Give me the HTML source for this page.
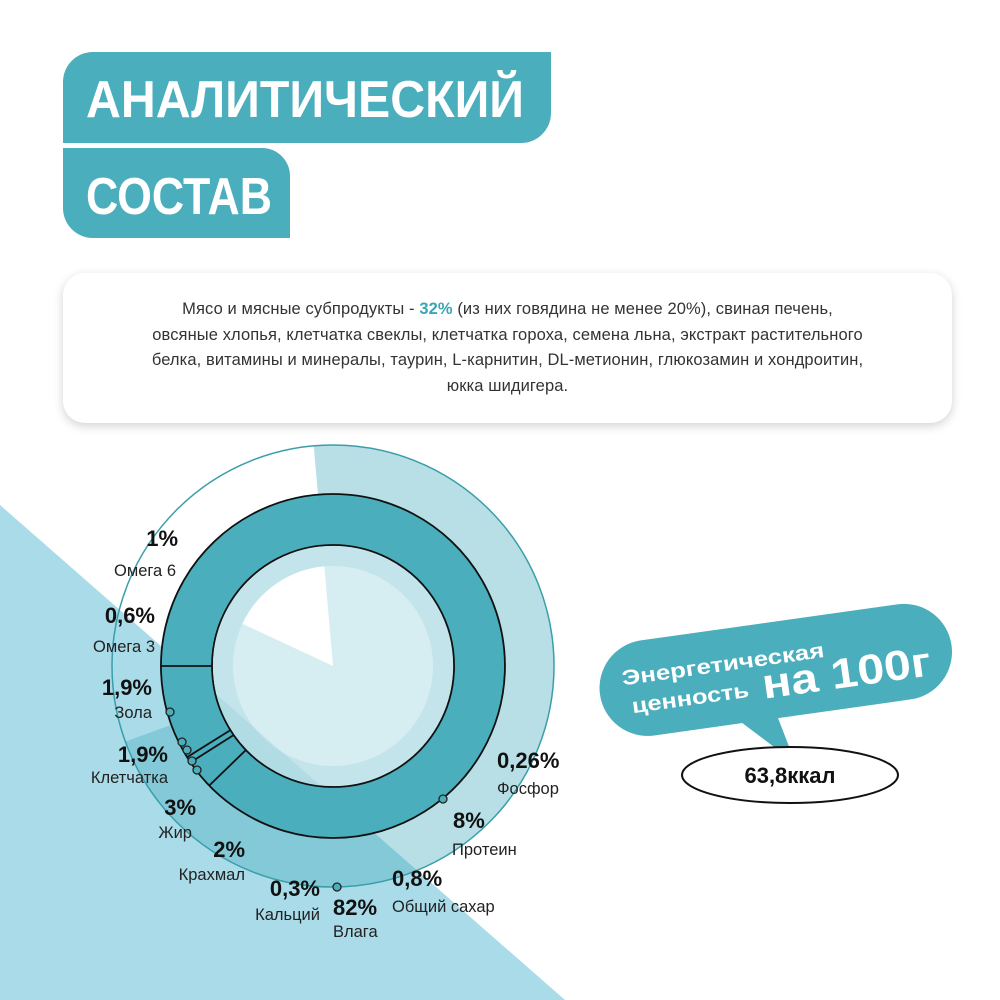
<!DOCTYPE html>
<html><head><meta charset="utf-8"><style>
html,body{margin:0;padding:0;background:#fff;}
body{width:1000px;height:1000px;overflow:hidden;position:relative;font-family:"Liberation Sans","DejaVu Sans",sans-serif;}
svg{position:absolute;left:0;top:0;}
.box{position:absolute;left:63px;top:273px;width:889px;height:150px;background:#fff;border-radius:22px;box-shadow:0 3px 10px rgba(0,0,0,0.18);}
.box p{margin:0;position:absolute;left:0;right:0;top:24px;text-align:center;font-size:16.5px;line-height:25.5px;color:#333;letter-spacing:0.1px;}
.box b{color:#3aa6b5;}
</style></head><body>
<svg width="1000" height="1000" viewBox="0 0 1000 1000">
  <defs><clipPath id="disk"><circle cx="333" cy="666" r="120"/></clipPath></defs>
  <path d="M93,52 H551 V113 A30,30 0 0 1 521,143 H63 V82 A30,30 0 0 1 93,52 Z" fill="#4aaebd"/>
  <path d="M63,148 H262 A28,28 0 0 1 290,176 V238 H93 A30,30 0 0 1 63,208 Z" fill="#4aaebd"/>
  <text x="86" y="117" font-size="52" font-weight="bold" fill="#fff" textLength="438" lengthAdjust="spacingAndGlyphs">АНАЛИТИЧЕСКИЙ</text>
  <text x="86" y="214" font-size="52" font-weight="bold" fill="#fff" textLength="186" lengthAdjust="spacingAndGlyphs">СОСТАВ</text>

  <polygon points="0,505 0,1000 565,1000" fill="#a9dbe9"/>

  <path d="M333,666 L313.7,445.8 A221,221 0 1 1 125.3,741.6 Z" fill="rgba(74,175,189,0.4)"/>
  <circle cx="333" cy="666" r="221" fill="none" stroke="#3a9ea9" stroke-width="1.5"/>

  <path d="M333,494 A172,172 0 1 1 332.9,494 Z M333,545 A121,121 0 1 0 333.1,545 Z" fill="#4aaebd" fill-rule="evenodd" stroke="#111" stroke-width="1.8"/>
  <circle cx="333" cy="666" r="120" fill="#c3e4ea"/>
  <circle cx="333" cy="666" r="100" fill="#d6eef2"/>
  <path d="M333,666 L242.4,623.7 A100,100 0 0 1 324.3,566.4 Z" fill="#fff"/>
  <polygon points="0,505 0,1000 565,1000" fill="rgba(74,175,189,0.15)" clip-path="url(#disk)"/>
  <g stroke="#111" stroke-width="1.8">
    <line x1="161" y1="666" x2="212" y2="666"/>
    <line x1="187.1" y1="757.2" x2="230.4" y2="730.1"/>
    <line x1="190.5" y1="762.4" x2="233.3" y2="735.3"/>
    <line x1="209.3" y1="785.5" x2="245.9" y2="750"/>
  </g>
  <g fill="#4aaebd" stroke="#222" stroke-width="1.3">
    <circle cx="170" cy="712" r="4"/>
    <circle cx="182" cy="742" r="4"/>
    <circle cx="187" cy="750" r="4"/>
    <circle cx="192" cy="761" r="4"/>
    <circle cx="197" cy="770" r="4"/>
    <circle cx="443" cy="799" r="4"/>
    <circle cx="337" cy="887" r="4"/>
  </g>

  <g font-size="22" font-weight="bold" fill="#111">
    <text x="178" y="546" text-anchor="end">1%</text>
    <text x="155" y="623" text-anchor="end">0,6%</text>
    <text x="152" y="695" text-anchor="end">1,9%</text>
    <text x="168" y="762" text-anchor="end">1,9%</text>
    <text x="196" y="815" text-anchor="end">3%</text>
    <text x="245" y="857" text-anchor="end">2%</text>
    <text x="320" y="896" text-anchor="end">0,3%</text>
    <text x="333" y="915">82%</text>
    <text x="392" y="886">0,8%</text>
    <text x="453" y="828">8%</text>
    <text x="497" y="768">0,26%</text>
  </g>
  <g font-size="16.5" fill="#222">
    <text x="176" y="576" text-anchor="end">Омега 6</text>
    <text x="155" y="652" text-anchor="end">Омега 3</text>
    <text x="152" y="718" text-anchor="end">Зола</text>
    <text x="168" y="783" text-anchor="end">Клетчатка</text>
    <text x="192" y="838" text-anchor="end">Жир</text>
    <text x="245" y="880" text-anchor="end">Крахмал</text>
    <text x="320" y="920" text-anchor="end">Кальций</text>
    <text x="333" y="937">Влага</text>
    <text x="392" y="912">Общий сахар</text>
    <text x="452" y="855">Протеин</text>
    <text x="497" y="794">Фосфор</text>
  </g>

  <g transform="rotate(-8 775 668)">
    <rect x="598" y="622" width="355" height="96" rx="48" fill="#4aaebd"/>
    <polygon points="722,705 768,705 782,765" fill="#4aaebd"/>
    <text x="622" y="664" font-size="21" font-weight="bold" fill="#fff" textLength="204" lengthAdjust="spacingAndGlyphs">Энергетическая</text>
    <text x="628" y="693" font-size="21" font-weight="bold" fill="#fff" textLength="118" lengthAdjust="spacingAndGlyphs">ценность</text>
    <text x="760" y="697" font-size="42" font-weight="bold" fill="#fff" textLength="170" lengthAdjust="spacingAndGlyphs">на 100г</text>
  </g>
  <ellipse cx="790" cy="775" rx="108" ry="28" fill="#fff" stroke="#111" stroke-width="2"/>
  <text x="790" y="783" font-size="22" font-weight="bold" fill="#111" text-anchor="middle">63,8ккал</text>
</svg>
<div class="box"><p>Мясо и мясные субпродукты - <b>32%</b> (из них говядина не менее 20%), свиная печень,<br>овсяные хлопья, клетчатка свеклы, клетчатка гороха, семена льна, экстракт растительного<br>белка, витамины и минералы, таурин, L-карнитин, DL-метионин, глюкозамин и хондроитин,<br>юкка шидигера.</p></div>
</body></html>
